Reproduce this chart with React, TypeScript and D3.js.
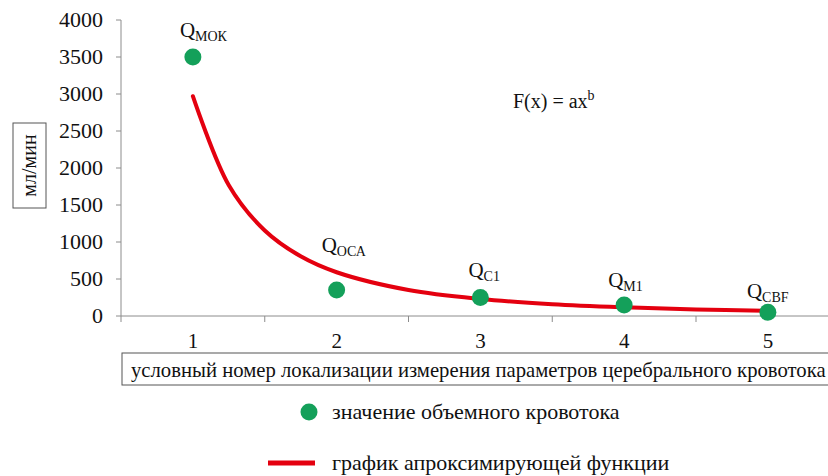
import React from 'react';
import * as d3 from 'd3';

// measured values (мл/мин) at each localization
const categories = [1, 2, 3, 4, 5];
const flowValues = [3500, 350, 250, 150, 50];
const pointNames = ['МОК', 'ОСА', 'C1', 'M1', 'CBF'];
const yTicks = [0, 500, 1000, 1500, 2000, 2500, 3000, 3500, 4000];

// approximating curve F(x) = ax^b
const curveX = [1, 1.25, 1.5, 1.75, 2, 2.5, 3, 3.5, 4, 4.5, 5];
const curveY = [2970, 1766, 1155, 806, 591, 351, 230, 160, 118, 89, 70];

const W = 828;
const H = 476;
const serif = { fontFamily: "'Liberation Serif'" };

// label offsets (px) relative to each point
const labelDx = [-13, -15, -12, -16, -21];
const labelDy = [-20, -38, -21, -18, -14];

const margin = { left: 121, top: 20, bottom: 316 };
const band = 143.75;
const axisColor = '#8c8c8c';
const textColor = '#111';
const green = '#14a05a';
const red = '#e4000f';

export default function App() {
  const scaleX = d3.scaleLinear()
    .domain([0.5, 5.5])
    .range([margin.left, margin.left + band * 5]);

  const scaleY = d3.scaleLinear()
    .domain([0, 4000])
    .range([margin.bottom, margin.top]);

  const boundaries = d3.range(0, 6).map(i => 0.5 + i);

  const line = d3.line<number>()
    .x((d, i) => scaleX(curveX[i]))
    .y(d => scaleY(d))
    .curve(d3.curveCatmullRom.alpha(0.5));

  return (
    <svg width={W} height={H} style={{ position: 'absolute', left: 0, top: 0, background: '#fff' }}>
      {/* y axis */}
      <line x1={margin.left} x2={margin.left} y1={scaleY(4000)} y2={scaleY(0)} stroke={axisColor} />
      {yTicks.map(t => (
        <g key={t}>
          <line x1={margin.left - 5} x2={margin.left} y1={scaleY(t)} y2={scaleY(t)} stroke={axisColor} />
          <text x={103} y={scaleY(t)} dy="0.34em" textAnchor="end" fontSize={22} fill={textColor} style={serif}>
            {t}
          </text>
        </g>
      ))}

      {/* x axis */}
      <line x1={margin.left} x2={scaleX(5.5)} y1={scaleY(0)} y2={scaleY(0)} stroke={axisColor} />
      {boundaries.map(b => (
        <line key={b} x1={scaleX(b)} x2={scaleX(b)} y1={scaleY(0)} y2={scaleY(0) + 6} stroke={axisColor} />
      ))}
      {categories.map(c => (
        <text key={c} x={scaleX(c)} y={348} textAnchor="middle" fontSize={21} fill={textColor} style={serif}>
          {c}
        </text>
      ))}

      {/* fitted curve */}
      <path d={line(curveY) || ''} fill="none" stroke={red} strokeWidth={4} strokeLinecap="round" />

      {/* points */}
      {flowValues.map((v, i) => (
        <circle key={i} cx={scaleX(categories[i])} cy={scaleY(v)} r={8.5} fill={green} />
      ))}

      {/* point labels */}
      {flowValues.map((v, i) => (
        <text
          key={'l' + i}
          x={scaleX(categories[i]) + labelDx[i]}
          y={scaleY(v) + labelDy[i]}
          fontSize={21}
          fill={textColor}
          style={serif}
        >
          <tspan>Q</tspan>
          <tspan fontSize={14} dy={4}>{pointNames[i]}</tspan>
        </text>
      ))}

      {/* formula */}
      <text x={513} y={108} fontSize={20} fill={textColor} style={serif}>
        <tspan>F(x) = ax</tspan>
        <tspan fontSize={14} dy={-8}>b</tspan>
      </text>

      {/* y axis title */}
      <rect x={13} y={123} width={33} height={85} fill="none" stroke="#555" />
      <text transform="translate(36,165.5) rotate(-90)" textAnchor="middle" fontSize={20} fill={textColor} style={serif}>
        мл/мин
      </text>

      {/* x axis title */}
      <rect x={122} y={353} width={720} height={32} fill="none" stroke="#555" />
      <text x={131} y={377} fontSize={20.7} fill={textColor} style={serif}>
        условный номер локализации измерения параметров церебрального кровотока
      </text>

      {/* legend */}
      <circle cx={309} cy={412} r={8.5} fill={green} />
      <text x={332} y={419} fontSize={22} fill={textColor} style={serif}>
        значение объемного кровотока
      </text>
      <line x1={268} x2={315} y1={463} y2={463} stroke={red} strokeWidth={5} />
      <text x={332} y={470} fontSize={22} fill={textColor} style={serif}>
        график апроксимирующей функции
      </text>
    </svg>
  );
}
